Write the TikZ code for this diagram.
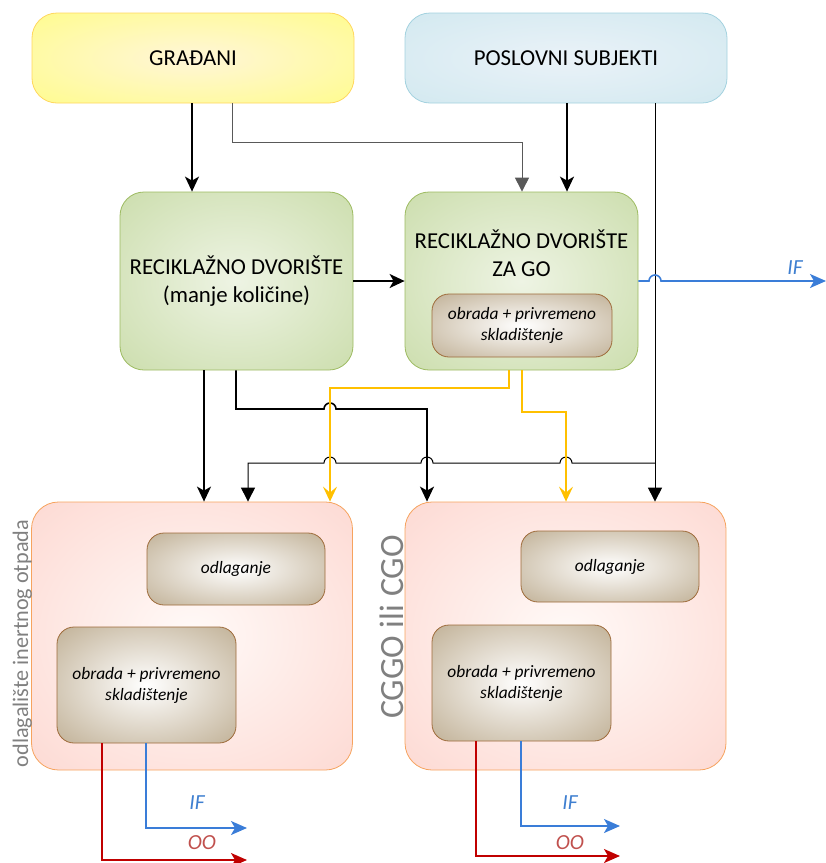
\documentclass[tikz,border=0pt]{standalone}
\usepackage{fontspec}
\setmainfont{Carlito}
\usetikzlibrary{arrows.meta}
\definecolor{ycen}{HTML}{FFF6D8}
\definecolor{yout}{HTML}{FFFC8A}
\definecolor{ybord}{HTML}{FFD75E}
\definecolor{bcen}{HTML}{EAF2F8}
\definecolor{bout}{HTML}{D0E8EF}
\definecolor{bbord}{HTML}{A3D2DF}
\definecolor{gcen}{HTML}{EEF4E4}
\definecolor{gout}{HTML}{C8DBA7}
\definecolor{gbord}{HTML}{9DBB61}
\definecolor{pcen}{HTML}{FFFAF8}
\definecolor{pout}{HTML}{FDD6CF}
\definecolor{pbord}{HTML}{F6A35E}
\definecolor{ncen}{HTML}{FFFFFF}
\definecolor{nout}{HTML}{C4B59C}
\definecolor{nbord}{HTML}{9E6B3A}
\definecolor{yel}{HTML}{FFC000}
\definecolor{blu}{HTML}{3A7DD8}
\definecolor{blutxt}{HTML}{3F7FD0}
\definecolor{redl}{HTML}{C00000}
\definecolor{redtxt}{HTML}{C0504D}
\definecolor{graytxt}{HTML}{808080}
\pgfdeclareradialshading{yshade}{\pgfpoint{0bp}{0bp}}{color(0bp)=(ycen); color(38bp)=(yout); color(50bp)=(yout)}
\pgfdeclareradialshading{bshade}{\pgfpoint{0bp}{0bp}}{color(0bp)=(bcen); color(40bp)=(bout); color(50bp)=(bout)}
\pgfdeclareradialshading{gshade}{\pgfpoint{0bp}{0bp}}{color(0bp)=(gcen); color(40bp)=(gout); color(50bp)=(gout)}
\pgfdeclareradialshading{pshade}{\pgfpoint{0bp}{0bp}}{color(0bp)=(pcen); color(40bp)=(pout); color(50bp)=(pout)}
\pgfdeclareradialshading{nshade}{\pgfpoint{0bp}{0bp}}{color(0bp)=(ncen); color(34bp)=(nout); color(50bp)=(nout)}
\begin{document}
\begin{tikzpicture}[x=1pt,y=-1pt,
  box/.style={rectangle, inner sep=0pt, align=center, line width=0.8pt},
  bigtext/.style={font=\fontsize{22.8}{27.5}\selectfont},
  topbox/.style={box, bigtext, rounded corners=25pt, minimum width=322pt, minimum height=90pt},
  rdbox/.style={box, bigtext, rounded corners=24pt, draw=gbord, shading=gshade, minimum width=233pt, minimum height=178pt},
  lowbox/.style={box, rounded corners=27pt, draw=pbord, shading=pshade, minimum width=321pt, minimum height=268pt},
  subbox/.style={box, rounded corners=17pt, draw=nbord, shading=nshade, font=\fontsize{17.4}{21}\selectfont\itshape},
  blk/.style={line width=1.6pt, -{Stealth[length=15pt,width=14pt,inset=4pt]}},
  thn/.style={line width=1pt, -{Triangle[length=14pt,width=14pt]}},
  yell/.style={draw=yel, line width=1.6pt, -{Stealth[length=15pt,width=14pt,inset=6pt,fill=yel]}},
  blul/.style={draw=blu, line width=1.6pt, -{Stealth[length=16pt,width=14pt,inset=4pt,fill=blu]}},
  redln/.style={draw=redl, line width=1.6pt, -{Stealth[length=16pt,width=14pt,inset=4pt,fill=redl]}},
  flowlbl/.style={font=\fontsize{21.5}{25}\selectfont\itshape},
  sidelbl/.style={text=graytxt, rotate=90, anchor=base, inner sep=0pt}
]
\useasboundingbox (0,0) rectangle (826,863);

% top boxes
\node[topbox, draw=ybord, shading=yshade] (grad) at (193,58) {GRAĐANI};
\node[topbox, draw=bbord, shading=bshade] (posl) at (566,58) {POSLOVNI SUBJEKTI};

% recycling yards
\node[rdbox] (rd1) at (236.5,281) {RECIKLAŽNO DVORIŠTE\\(manje količine)};
\node[rdbox] (rd2) at (521.5,281) {};
\node[bigtext, align=center, inner sep=0pt] (rd2t) at (521.5,253) {RECIKLAŽNO DVORIŠTE\\ZA GO};
\node[subbox, minimum width=180pt, minimum height=63pt] (rd2s) at (522,325.5) {obrada + privremeno\\skladištenje};

% lower boxes
\node[lowbox] (bl) at (192,636) {};
\node[lowbox] (br) at (565.5,636) {};
\node[subbox, minimum width=178pt, minimum height=72pt] (blodl) at (236,569) {odlaganje};
\node[subbox, minimum width=179pt, minimum height=116pt] (blobr) at (146.5,685) {obrada + privremeno\\skladištenje};
\node[subbox, minimum width=178pt, minimum height=71pt] (brodl) at (610,566.5) {odlaganje};
\node[subbox, minimum width=179pt, minimum height=116pt] (brobr) at (521.5,683) {obrada + privremeno\\skladištenje};

% side labels
\node[sidelbl, font=\fontsize{22.2}{26}\selectfont] (bllbl) at (28,643.5) {odlagalište inertnog otpada};
\node[sidelbl, font=\fontsize{34}{40}\selectfont] (brlbl) at (403,627) {CGGO ili CGO};

% connectors from top
\draw[blk] (192,0 |- grad.south) -- (192,0 |- rd1.north);
\draw[thn, draw=black!65] (232,0 |- grad.south) -- (232,142) -- (522,142) -- (522,0 |- rd2.north);
\draw[blk] (567,0 |- posl.south) -- (567,0 |- rd2.north);
\draw[thn] (655,0 |- posl.south) -- (655,0 |- br.north);
\coordinate (jn) at (655,463);
\draw[thn] (jn) -- (572,463) arc[start angle=0,end angle=-180,radius=6]
  -- (433,463) arc[start angle=0,end angle=-180,radius=6]
  -- (336,463) arc[start angle=0,end angle=-180,radius=6]
  -- (248,463) -- (248,0 |- bl.north);

% between yards
\draw[blk] (rd1.east) -- (rd2.west);

% from rd1 down
\draw[blk] (204,0 |- rd1.south) -- (204,0 |- bl.north);
\draw[blk] (236,0 |- rd1.south) -- (236,409) -- (324,409) arc[start angle=180,end angle=360,radius=6] -- (427,409) -- (427,0 |- br.north);

% yellow from rd2
\draw[yell] (509,0 |- rd2.south) -- (509,388) -- (330,388) -- (330,0 |- bl.north);
\draw[yell] (522,0 |- rd2.south) -- (522,412) -- (566,412) -- (566,0 |- br.north);

% IF from rd2
\coordinate (ifend) at (826,281);
\draw[blul] (rd2.east) -- (649,281) arc[start angle=180,end angle=360,radius=6] -- (ifend);
\node[flowlbl, text=blutxt] (iflbl) at (795,268) {IF};

% outputs left
\coordinate (blif) at (247,828);
\coordinate (bloo) at (247,860);
\draw[redln] (102,0 |- blobr.south) -- (102,860) -- (bloo);
\draw[blul] (146,0 |- blobr.south) -- (146,828) -- (blif);
\node[flowlbl, text=blutxt] (bliflbl) at (197,803) {IF};
\node[flowlbl, text=redtxt] (bloolbl) at (202,843) {OO};

% outputs right
\coordinate (brif) at (620,826);
\coordinate (broo) at (620,856);
\draw[redln] (476,0 |- brobr.south) -- (476,856) -- (broo);
\draw[blul] (521,0 |- brobr.south) -- (521,826) -- (brif);
\node[flowlbl, text=blutxt] (briflbl) at (570,803) {IF};
\node[flowlbl, text=redtxt] (broolbl) at (570,843) {OO};
\end{tikzpicture}
\end{document}
